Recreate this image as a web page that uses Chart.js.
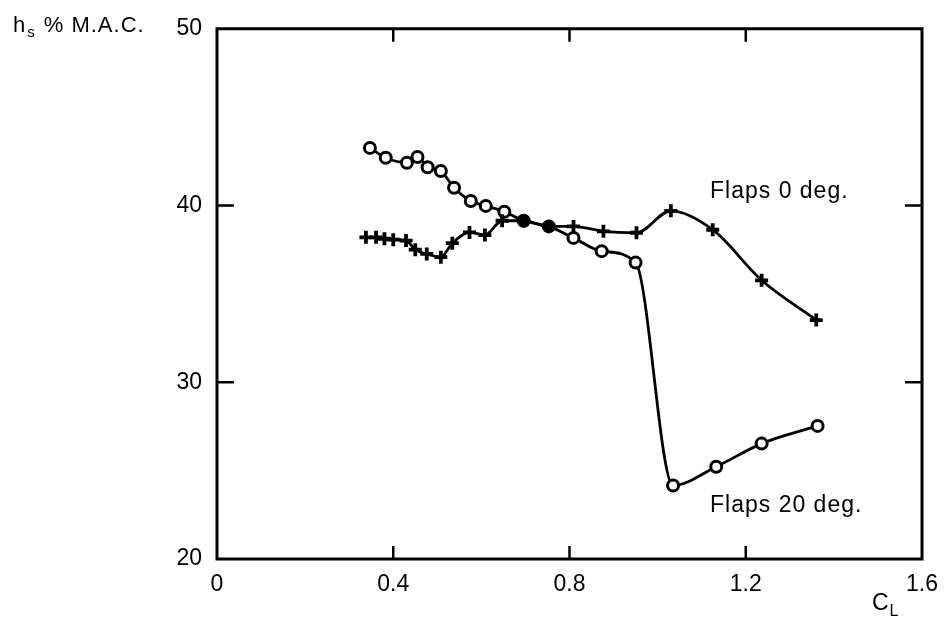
<!DOCTYPE html>
<html>
<head>
<meta charset="utf-8">
<script src="https://cdn.jsdelivr.net/npm/chart.js@4"></script>
<style>
  html, body { margin: 0; padding: 0; background: #fff; }
  #wrap { width: 950px; height: 625px; position: relative; }
</style>
</head>
<body>
<div id="wrap"><canvas id="c" width="950" height="625"></canvas></div>
<script>
// Flaps 0 deg. (crosses)
const flaps0CL = [0.338, 0.361, 0.380, 0.400, 0.429, 0.450, 0.476, 0.508, 0.534, 0.573, 0.608, 0.647, 0.696, 0.753, 0.809, 0.877, 0.952, 1.030, 1.125, 1.236, 1.360];
const flaps0H  = [38.20, 38.20, 38.12, 38.07, 38.02, 37.50, 37.26, 37.08, 37.87, 38.48, 38.33, 39.14, 39.14, 38.82, 38.82, 38.54, 38.46, 39.70, 38.63, 35.77, 33.52];
// Flaps 20 deg. (open circles)
const flaps20CL = [0.347, 0.383, 0.431, 0.455, 0.478, 0.508, 0.538, 0.576, 0.610, 0.652, 0.696, 0.753, 0.809, 0.873, 0.950, 1.035, 1.133, 1.236, 1.363];
const flaps20H  = [43.26, 42.70, 42.42, 42.75, 42.17, 41.95, 41.01, 40.26, 39.98, 39.65, 39.14, 38.82, 38.17, 37.42, 36.77, 24.16, 25.22, 26.53, 27.53];
const xTicks = [0, 0.4, 0.8, 1.2, 1.6];
const yTicks = [20, 30, 40, 50];
const seriesLabels = ['Flaps 0 deg.', 'Flaps 20 deg.'];

const FONT = '"Liberation Sans", Arial, sans-serif';

function pts(xs, ys) { return xs.map((x, i) => ({ x: x, y: ys[i] })); }

const overlayPlugin = {
  id: 'overlay',
  afterDraw(chart) {
    const ctx = chart.ctx;
    const a = chart.chartArea;
    const xs = chart.scales.x, ys = chart.scales.y;
    ctx.save();
    ctx.strokeStyle = '#000';
    ctx.lineWidth = 3;
    ctx.lineJoin = 'miter';
    // box
    ctx.beginPath();
    ctx.moveTo(a.left, a.bottom);
    ctx.lineTo(a.left, a.top);
    ctx.lineTo(a.right, a.top);
    ctx.lineTo(a.right, a.bottom);
    ctx.closePath();
    ctx.stroke();
    // inner ticks
    ctx.lineWidth = 2.5;
    const tl = 13;
    xTicks.slice(1, -1).forEach(v => {
      const px = xs.getPixelForValue(v);
      ctx.beginPath();
      ctx.moveTo(px, a.bottom); ctx.lineTo(px, a.bottom - tl);
      ctx.moveTo(px, a.top); ctx.lineTo(px, a.top + tl);
      ctx.stroke();
    });
    yTicks.slice(1, -1).forEach(v => {
      const py = ys.getPixelForValue(v);
      ctx.beginPath();
      ctx.moveTo(a.left, py); ctx.lineTo(a.left + tl + 4, py);
      ctx.moveTo(a.right, py); ctx.lineTo(a.right - tl - 4, py);
      ctx.stroke();
    });
    // texts
    ctx.fillStyle = '#000';
    ctx.textBaseline = 'alphabetic';
    ctx.textAlign = 'left';
    ctx.letterSpacing = '1px';
    ctx.font = '22px ' + FONT;
    ctx.fillText('h', 13, 32);
    let w = ctx.measureText('h').width;
    ctx.font = '15px ' + FONT;
    ctx.fillText('s', 13 + w + 1, 37);
    let w2 = ctx.measureText('s').width;
    ctx.font = '22px ' + FONT;
    ctx.fillText('% M.A.C.', 13 + w + w2 + 9, 32);

    ctx.font = '23px ' + FONT;
    ctx.fillText(seriesLabels[0], 710, 198);
    ctx.fillText(seriesLabels[1], 710, 512);

    ctx.letterSpacing = '0px';
    ctx.font = '23px ' + FONT;
    ctx.fillText('C', 872, 610);
    let wc = ctx.measureText('C').width;
    ctx.font = '16px ' + FONT;
    ctx.fillText('L', 872 + wc + 1, 616);
    ctx.restore();
  }
};

const circleBg = flaps20CL.map((x, i) => (i === 10 || i === 11) ? '#000' : '#fff');

new Chart(document.getElementById('c'), {
  type: 'line',
  data: {
    datasets: [
      {
        label: seriesLabels[0],
        data: pts(flaps0CL, flaps0H),
        borderColor: '#000',
        borderWidth: 2.8,
        cubicInterpolationMode: 'monotone',
        pointStyle: 'cross',
        pointRadius: 6.5,
        pointBorderWidth: 3.8,
        pointBorderColor: '#000',
        fill: false
      },
      {
        label: seriesLabels[1],
        data: pts(flaps20CL, flaps20H),
        borderColor: '#000',
        borderWidth: 2.8,
        cubicInterpolationMode: 'monotone',
        pointStyle: 'circle',
        pointRadius: 5.5,
        pointBorderWidth: 3,
        pointBorderColor: '#000',
        pointBackgroundColor: circleBg,
        fill: false
      }
    ]
  },
  options: {
    responsive: false,
    animation: false,
    events: [],
    layout: { padding: { left: 0, right: 25, top: 25, bottom: 0 } },
    plugins: { legend: { display: false }, tooltip: { enabled: false } },
    scales: {
      x: {
        type: 'linear',
        min: 0, max: 1.6,
        afterBuildTicks(s) { s.ticks = xTicks.map(v => ({ value: v })); },
        afterFit(s) { s.height = 66; },
        grid: { display: false, drawTicks: false },
        border: { display: false },
        ticks: {
          color: '#000',
          font: { family: FONT, size: 23 },
          padding: 12,
          maxRotation: 0,
          autoSkip: false,
          callback: v => (v === 0 ? '0' : String(v))
        }
      },
      y: {
        type: 'linear',
        min: 20, max: 50,
        afterBuildTicks(s) { s.ticks = yTicks.map(v => ({ value: v })); },
        afterFit(s) { s.width = 217; },
        grid: { display: false, drawTicks: false },
        border: { display: false },
        ticks: {
          color: '#000',
          font: { family: FONT, size: 23 },
          padding: 15,
          autoSkip: false,
          callback: v => String(v)
        }
      }
    }
  },
  plugins: [overlayPlugin]
});
</script>
</body>
</html>
